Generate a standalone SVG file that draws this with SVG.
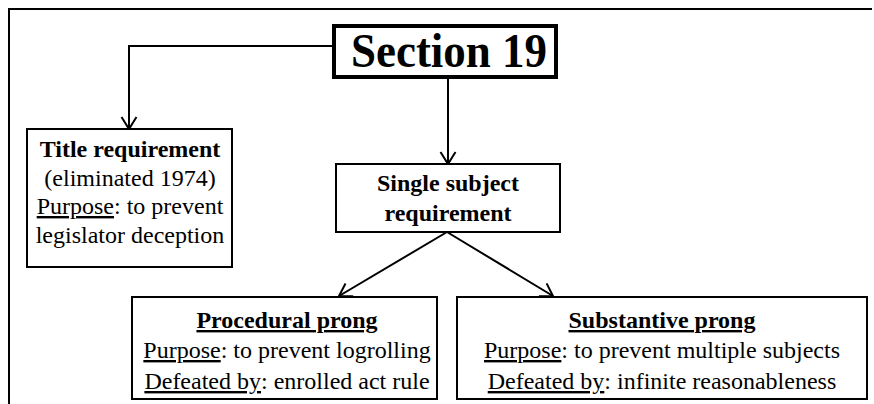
<svg xmlns="http://www.w3.org/2000/svg" width="874" height="404" viewBox="0 0 874 404">
<defs>
<style>
.box{fill:#fff;stroke:#000;stroke-width:2}
.thick{fill:#fff;stroke:#000;stroke-width:4}
.ln{fill:none;stroke:#000;stroke-width:2}
text{font-family:"Liberation Serif","Times New Roman",serif;fill:#000;text-anchor:middle;font-size:24px}
.b{font-weight:bold}
.big{font-size:49px;font-weight:bold}
</style>
<marker id="arr" markerWidth="16" markerHeight="18" refX="13" refY="9" orient="auto" markerUnits="userSpaceOnUse">
<path d="M1,1.5 L13,9 L1,16.5" fill="none" stroke="#000" stroke-width="2"/>
</marker>
</defs>
<rect width="874" height="404" fill="#fff"/>
<path d="M9,404 V9 H872" class="ln"/>
<g id="connectors">
<path d="M334,46 H129 V129" class="ln" marker-end="url(#arr)"/>
<path d="M448,77 V164" class="ln" marker-end="url(#arr)"/>
<path d="M447,232 L339,296" class="ln" marker-end="url(#arr)"/>
<path d="M447,232 L553,296" class="ln" marker-end="url(#arr)"/>
</g>
<g id="section19">
<rect x="334" y="26" width="222" height="51" class="thick"/>
<text x="449" y="67" class="big" textLength="196" lengthAdjust="spacingAndGlyphs">Section 19</text>
</g>
<g id="title">
<rect x="27" y="129" width="205" height="138" class="box"/>
<text x="130" y="157" class="b">Title requirement</text>
<text x="130" y="186">(eliminated 1974)</text>
<text x="130" y="214"><tspan text-decoration="underline">Purpose</tspan>: to prevent</text>
<text x="130" y="243">legislator deception</text>
</g>
<g id="single">
<rect x="336" y="164" width="224" height="68" class="box"/>
<text x="448" y="191" class="b">Single subject</text>
<text x="448" y="221" class="b">requirement</text>
</g>
<g id="procedural">
<rect x="132" y="297" width="305" height="102" class="box"/>
<text x="287" y="328" class="b" text-decoration="underline">Procedural prong</text>
<text x="287" y="358"><tspan text-decoration="underline">Purpose</tspan>: to prevent logrolling</text>
<text x="287" y="389"><tspan text-decoration="underline">Defeated by</tspan>: enrolled act rule</text>
</g>
<g id="substantive">
<rect x="457" y="297" width="410" height="102" class="box"/>
<text x="662" y="328" class="b" text-decoration="underline">Substantive prong</text>
<text x="662" y="358"><tspan text-decoration="underline">Purpose</tspan>: to prevent multiple subjects</text>
<text x="662" y="389"><tspan text-decoration="underline">Defeated by</tspan>: infinite reasonableness</text>
</g>
</svg>
